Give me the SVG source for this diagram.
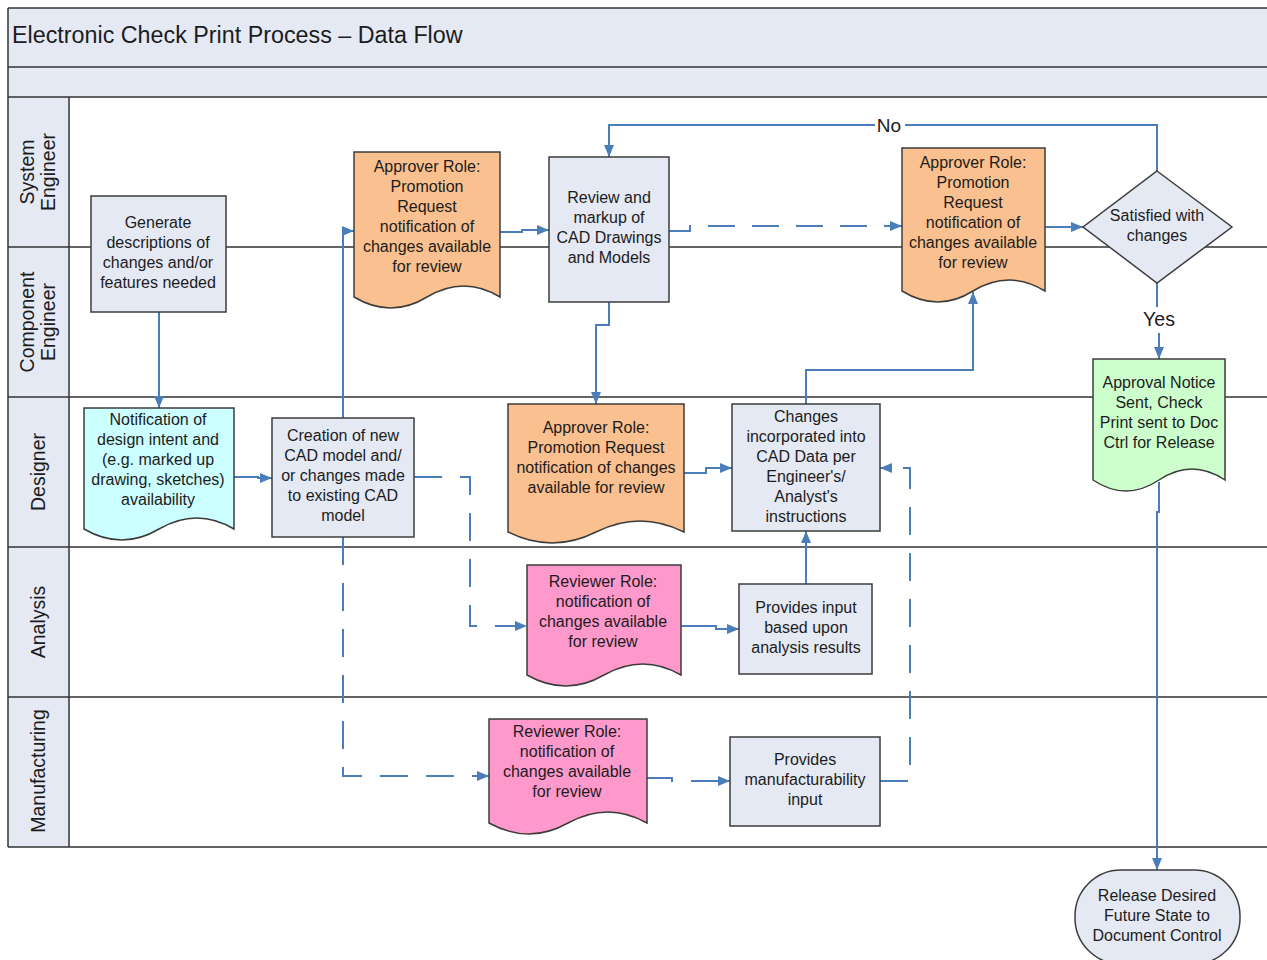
<svg xmlns="http://www.w3.org/2000/svg" width="1267" height="960" viewBox="0 0 1267 960">
<style>
text{font-family:"Liberation Sans",Arial,sans-serif;fill:#1c1c1c}
.t{font-size:16px;text-anchor:middle}
.lane{font-size:19.5px;text-anchor:middle}
.box{fill:#E4E9F4;stroke:#3c3c3c;stroke-width:1.5}
.org{fill:#FAC08F;stroke:#3c3c3c;stroke-width:1.5}
.pnk{fill:#FF99CC;stroke:#3c3c3c;stroke-width:1.5}
.cyn{fill:#CCFFFF;stroke:#3c3c3c;stroke-width:1.5}
.grn{fill:#CCFFCC;stroke:#3c3c3c;stroke-width:1.5}
.ln{stroke:#333;stroke-width:1.5;fill:none}
.c{stroke:#4A7EBB;stroke-width:2;fill:none;marker-end:url(#ah)}
.d{stroke-dasharray:28 18}
</style>
<defs>
<marker id="ah" markerUnits="userSpaceOnUse" markerWidth="12" markerHeight="10" refX="12" refY="5" orient="auto"><path d="M0,0 L12,5 L0,10 z" fill="#4A7EBB"/></marker>
</defs>
<rect width="1267" height="960" fill="#fff"/>
<g id="frame">
<rect x="8" y="8" width="1262" height="89" fill="#E4E9F4"/>
<rect x="8" y="97" width="61" height="750" fill="#E4E9F4"/>
<path class="ln" d="M8,8 H1267 M8,67 H1267 M8,97 H1267 M8,247 H1267 M8,397 H1267 M8,547 H1267 M8,697 H1267 M8,847 H1267 M8,8 V847 M69,97 V847"/>
<text x="12" y="43" style="font-size:23.3px">Electronic Check Print Process – Data Flow</text>
<g transform="translate(0,172) rotate(-90)"><text class="lane" x="0" y="34">System</text><text class="lane" x="0" y="55">Engineer</text></g>
<g transform="translate(0,322) rotate(-90)"><text class="lane" x="0" y="34">Component</text><text class="lane" x="0" y="55">Engineer</text></g>
<g transform="translate(0,472) rotate(-90)"><text class="lane" x="0" y="45">Designer</text></g>
<g transform="translate(0,622) rotate(-90)"><text class="lane" x="0" y="45">Analysis</text></g>
<g transform="translate(0,771) rotate(-90)"><text class="lane" x="0" y="45">Manufacturing</text></g>
</g>
<g id="connectors">
<path class="c" d="M159,312 V408"/>
<path class="c" d="M234,477 H258 V478 H272"/>
<path class="c" d="M343,418 V231 H354"/>
<path class="c" d="M500,232 H522 V230 H549"/>
<path class="c" d="M609,302 V325 H596 V404"/>
<path class="c" d="M669,231 H690 V226 H902" style="stroke-dasharray:27 17"/>
<path class="c" d="M1045,227 H1083"/>
<path class="c" d="M1157,171 V125 H609 V157"/>
<rect x="875" y="114" width="30" height="22" fill="#fff"/>
<text x="889" y="132" style="font-size:19px;text-anchor:middle">No</text>
<path d="M1157,283 V307" stroke="#4A7EBB" stroke-width="2" fill="none"/>
<text x="1159" y="326" style="font-size:19.5px;text-anchor:middle">Yes</text>
<path class="c" d="M1159,333 V359"/>
<path class="c" d="M1159,482 V512 H1157 V870"/>
<path class="c" d="M806,404 V370 H973 V292"/>
<path class="c" d="M684,473 H706 V468 H732"/>
<path class="c" d="M681,626 H716 V629 H739"/>
<path class="c" d="M806,584 V531"/>
<path class="c d" d="M414,477 H470 V626 H527"/>
<path class="c d" d="M343,537 V776 H489"/>
<path class="c" d="M647,778 H672 V781 H730" style="stroke-dasharray:29 18 60"/>
<path class="c d" d="M880,781 H910 V468 H880"/>
</g>
<g id="n-generate"><rect class="box" x="91" y="196" width="135" height="116"/>
<text class="t" x="158" y="228">Generate</text><text class="t" x="158" y="248">descriptions of</text><text class="t" x="158" y="268">changes and/or</text><text class="t" x="158" y="288">features needed</text></g>
<g id="n-approver1"><path class="org" d="M354,152 H500 V297 Q464,275 427,297 Q391,319 354,297 Z"/>
<text class="t" x="427" y="172">Approver Role:</text><text class="t" x="427" y="192">Promotion</text><text class="t" x="427" y="212">Request</text><text class="t" x="427" y="232">notification of</text><text class="t" x="427" y="252">changes available</text><text class="t" x="427" y="272">for review</text></g>
<g id="n-review"><rect class="box" x="549" y="157" width="120" height="145"/>
<text class="t" x="609" y="203">Review and</text><text class="t" x="609" y="223">markup of</text><text class="t" x="609" y="243">CAD Drawings</text><text class="t" x="609" y="263">and Models</text></g>
<g id="n-approver2"><path class="org" d="M902,148 H1045 V291 Q1009,269 973,291 Q938,313 902,291 Z"/>
<text class="t" x="973" y="168">Approver Role:</text><text class="t" x="973" y="188">Promotion</text><text class="t" x="973" y="208">Request</text><text class="t" x="973" y="228">notification of</text><text class="t" x="973" y="248">changes available</text><text class="t" x="973" y="268">for review</text></g>
<g id="n-decision"><path class="box" d="M1157,171 L1232,227 L1157,283 L1083,227 Z"/>
<text class="t" x="1157" y="221">Satisfied with</text><text class="t" x="1157" y="241">changes</text></g>
<g id="n-approval"><path class="grn" d="M1093,359 H1225 V480 Q1192,458 1159,480 Q1126,502 1093,480 Z"/>
<text class="t" x="1159" y="388">Approval Notice</text><text class="t" x="1159" y="408">Sent, Check</text><text class="t" x="1159" y="428">Print sent to Doc</text><text class="t" x="1159" y="448">Ctrl for Release</text></g>
<g id="n-release"><rect class="box" x="1075" y="870" width="165" height="94" rx="46" ry="46"/>
<text class="t" x="1157" y="901">Release Desired</text><text class="t" x="1157" y="921">Future State to</text><text class="t" x="1157" y="941">Document Control</text></g>
<g id="n-notification"><path class="cyn" d="M84,408 H234 V529 Q197,507 159,529 Q122,551 84,529 Z"/>
<text class="t" x="158" y="425">Notification of</text><text class="t" x="158" y="445">design intent and</text><text class="t" x="158" y="465">(e.g. marked up</text><text class="t" x="158" y="485">drawing, sketches)</text><text class="t" x="158" y="505">availability</text></g>
<g id="n-creation"><rect class="box" x="272" y="418" width="142" height="119"/>
<text class="t" x="343" y="441">Creation of new</text><text class="t" x="343" y="461">CAD model and/</text><text class="t" x="343" y="481">or changes made</text><text class="t" x="343" y="501">to existing CAD</text><text class="t" x="343" y="521">model</text></g>
<g id="n-approver3"><path class="org" d="M508,404 H684 V532 Q640,510 596,532 Q552,554 508,532 Z"/>
<text class="t" x="596" y="433">Approver Role:</text><text class="t" x="596" y="453">Promotion Request</text><text class="t" x="596" y="473">notification of changes</text><text class="t" x="596" y="493">available for review</text></g>
<g id="n-changes"><rect class="box" x="732" y="404" width="148" height="127"/>
<text class="t" x="806" y="422">Changes</text><text class="t" x="806" y="442">incorporated into</text><text class="t" x="806" y="462">CAD Data per</text><text class="t" x="806" y="482">Engineer's/</text><text class="t" x="806" y="502">Analyst's</text><text class="t" x="806" y="522">instructions</text></g>
<g id="n-reviewerA"><path class="pnk" d="M527,565 H681 V675 Q643,653 604,675 Q566,697 527,675 Z"/>
<text class="t" x="603" y="587">Reviewer Role:</text><text class="t" x="603" y="607">notification of</text><text class="t" x="603" y="627">changes available</text><text class="t" x="603" y="647">for review</text></g>
<g id="n-input"><rect class="box" x="739" y="584" width="133" height="90"/>
<text class="t" x="806" y="613">Provides input</text><text class="t" x="806" y="633">based upon</text><text class="t" x="806" y="653">analysis results</text></g>
<g id="n-reviewerM"><path class="pnk" d="M489,719 H647 V823 Q608,801 568,823 Q529,845 489,823 Z"/>
<text class="t" x="567" y="737">Reviewer Role:</text><text class="t" x="567" y="757">notification of</text><text class="t" x="567" y="777">changes available</text><text class="t" x="567" y="797">for review</text></g>
<g id="n-mfg"><rect class="box" x="730" y="737" width="150" height="89"/>
<text class="t" x="805" y="765">Provides</text><text class="t" x="805" y="785">manufacturability</text><text class="t" x="805" y="805">input</text></g>
</svg>
